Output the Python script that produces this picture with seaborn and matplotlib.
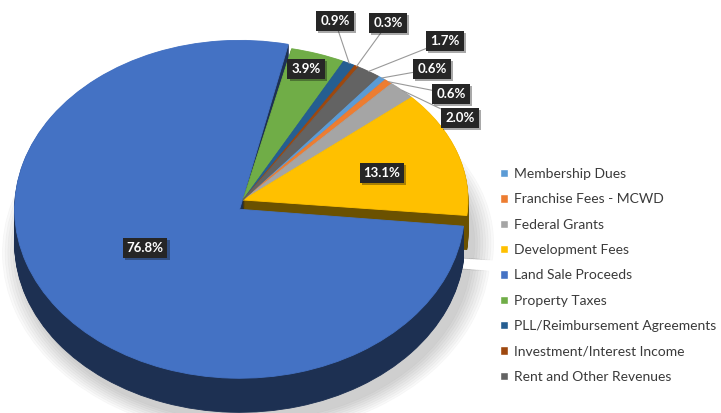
import matplotlib.pyplot as plt
import matplotlib.patheffects as pe
from matplotlib.patches import Patch
from matplotlib.colors import to_rgb
from matplotlib.transforms import Affine2D
import seaborn as sns
import numpy as np

# revenue sources, legend order (drawn clockwise)
categories = ["Membership Dues", "Franchise Fees - MCWD", "Federal Grants",
              "Development Fees", "Land Sale Proceeds", "Property Taxes",
              "PLL/Reimbursement Agreements", "Investment/Interest Income",
              "Rent and Other Revenues"]
shares = [0.6, 0.6, 2.0, 13.1, 76.8, 3.9, 0.9, 0.3, 1.7]
colors = ["#5B9BD5", "#ED7D31", "#A5A5A5", "#FFC000", "#4472C4",
          "#70AD47", "#255E91", "#9E480E", "#636363"]

# label box centres (image pixels) and whether a leader line is drawn
label_pos = [(432, 69), (451, 94), (460, 118), (382, 173), (145, 248),
             (306, 69), (335, 21), (388, 23), (445, 41)]
leader = [True, True, True, False, False, False, True, True, True]

sns.set_style("white")
plt.rcParams["font.family"] = ["Lato", "DejaVu Sans"]

W, H = 721, 413
fig = plt.figure(figsize=(W / 100, H / 100), dpi=100)
ax = fig.add_axes([0, 0, 1, 1])

cx, cy, rx, ry = 243, 200, 225, 155   # pie centre / radii in pixels
start = 53
big = 4                               # land sale slice is pulled forward
pull = Affine2D().scale(1.0, 1.09).translate(-0.015, -0.06)


def darken(c, f):
    return tuple(np.array(to_rgb(c)) * f)


def draw(cols, drop=0.0, radius=1.0, alpha=1.0, dx=0.0):
    wedges, _ = ax.pie(shares, colors=cols, startangle=start,
                       counterclock=False, radius=radius, frame=True,
                       wedgeprops=dict(lw=0.6, alpha=alpha))
    for i, w in enumerate(wedges):
        w.set_edgecolor(w.get_facecolor())
        tr = Affine2D().translate(dx, -drop)
        if i == big:
            tr = pull + tr
        w.set_transform(tr + ax.transData)
    return wedges


# soft shadow
for i in range(8):
    draw(["#000000"] * 9, drop=0.28, dx=0.03, radius=1.0 + 0.012 * i, alpha=0.025)

# side of the disc
side = [darken(c, 0.42) for c in colors]
for k in np.linspace(0.22, 0.005, 32):
    draw(side, drop=k)

wedges = draw(colors)

ax.set_aspect("auto")
ax.set_xlim(-cx / rx, (W - cx) / rx)
ax.set_ylim(-(H - cy) / ry, cy / ry)
ax.axis("off")

for i, (w, s, (lx, ly), lead) in enumerate(zip(wedges, shares, label_pos, leader)):
    th = np.deg2rad((w.theta1 + w.theta2) / 2)
    px, py = np.cos(th), np.sin(th)
    if i == big:
        px, py = pull.transform((px, py))
    t = ax.annotate(f"{s:.1f}%", xy=(px, py), xytext=(lx, H - ly),
                    textcoords="figure pixels", ha="center", va="center",
                    color="white", fontsize=9.5, fontweight="bold",
                    bbox=dict(boxstyle="square,pad=0.3", fc="#262626", ec="none"),
                    arrowprops=dict(arrowstyle="-", color="#999999", lw=0.8,
                                    shrinkA=0, shrinkB=0) if lead else None)
    t.get_bbox_patch().set_path_effects(
        [pe.SimplePatchShadow(offset=(1.5, -1.5), alpha=0.35), pe.Normal()])

handles = [Patch(facecolor=c, label=n) for c, n in zip(colors, categories)]
fig.legend(handles=handles, loc="upper left", bbox_to_anchor=(500 / W, 1 - 168 / H),
           frameon=False, fontsize=10, handlelength=0.55, handleheight=0.55,
           handletextpad=0.45, labelspacing=0.96, borderpad=0, borderaxespad=0,
           labelcolor="#3a3a3a")

fig.savefig("out.png", dpi=100)
